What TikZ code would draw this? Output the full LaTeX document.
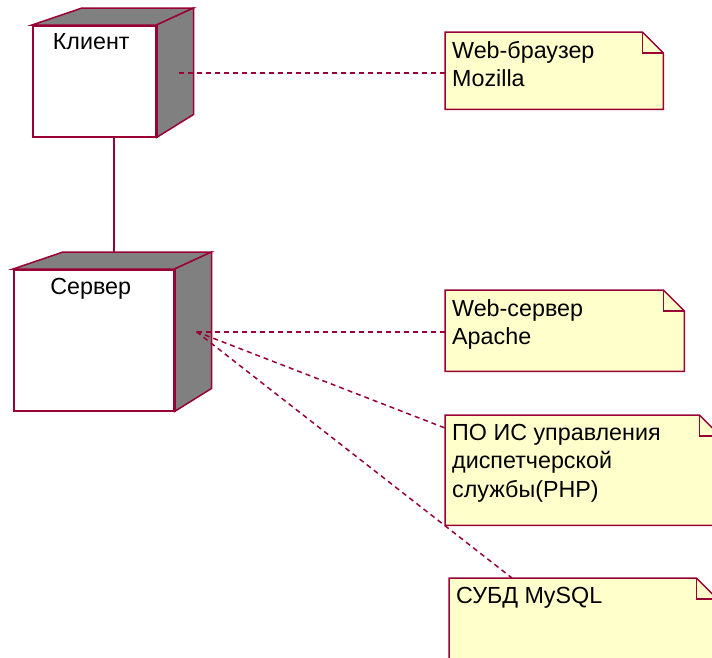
\documentclass[tikz,border=0pt]{standalone}
\usepackage{fontspec}
\setmainfont{Liberation Sans}
\usetikzlibrary{calc,backgrounds}

\definecolor{edgered}{RGB}{153,0,51}
\definecolor{notefill}{RGB}{255,255,204}
\definecolor{sidegray}{RGB}{128,128,128}

% fixed-size text box, text at the top
\newcommand{\fixbox}[3]{\parbox[t][#1][t]{#2}{#3}}

% grey top and right faces of a deployment node
\newcommand{\cubeside}[1]{%
  \filldraw[edge, fill=sidegray] (#1.north west) -- ([shift={(50,-17)}]#1.north west)
    -- ([shift={(37,-17)}]#1.north east) -- (#1.north east) -- cycle;
  \filldraw[edge, fill=sidegray] (#1.north east) -- ([shift={(37,-17)}]#1.north east)
    -- ([shift={(37,-23)}]#1.south east) -- (#1.south east) -- cycle;
  \draw[edgered, line width=3pt] (#1.north east) -- (#1.south east);
}

% note outline with folded corner
\newcommand{\notebox}[1]{%
  \begin{scope}[on background layer]
    \filldraw[edge, fill=notefill] (#1.north west) -- ([xshift=-21pt]#1.north east)
      -- ([yshift=-21pt]#1.north east) -- (#1.south east) -- (#1.south west) -- cycle;
  \end{scope}
  \draw[edge] ([xshift=-21pt]#1.north east) |- ([yshift=-21pt]#1.north east);
}

\tikzset{
  edge/.style={draw=edgered, line width=1.5pt},
  link/.style={draw=edgered, line width=1.5pt, dash pattern=on 5pt off 4pt},
  cubeface/.style={edge, fill=white, anchor=north west, inner xsep=0pt, inner ysep=8pt},
  note/.style={anchor=north west, inner xsep=7pt, inner ysep=9pt},
}

\begin{document}
\begin{tikzpicture}[x=1pt, y=-1pt, font=\fontsize{23.3}{28.5}\selectfont]
  \useasboundingbox (0,0) rectangle (712,657);

  % nodes
  \node[cubeface] (client) at (32,25) {\fixbox{95pt}{123pt}{\centering\hspace*{-6pt}Клиент}};
  \cubeside{client}
  \node[cubeface] (server) at (13,269) {\fixbox{125pt}{160pt}{\centering\hspace*{-6pt}Сервер}};
  \cubeside{server}

  % notes
  \node[note] (browser) at (445,32) {\fixbox{59pt}{204pt}{\raggedright Web-браузер\\Mozilla}};
  \notebox{browser}
  \node[note] (apache) at (445,290) {\fixbox{63pt}{225pt}{\raggedright Web-сервер\\Apache}};
  \notebox{apache}
  \node[note] (php) at (445,415) {\fixbox{92pt}{261pt}{\raggedright ПО ИС управления\\диспетчерской\\службы(PHP)}};
  \notebox{php}
  \node[note] (dbms) at (449,578) {\fixbox{102pt}{254pt}{\raggedright СУБД MySQL}};
  \notebox{dbms}

  \coordinate (clbottom) at ([xshift=19.5pt]client.south);
  \coordinate (clside) at ([shift={(22,-8.5)}]client.east);
  \coordinate (srvtop) at ([shift={(50,-17)}]server.north west);
  \coordinate (srvside) at ([shift={(22,-8.5)}]server.east);

  % connectors
  \draw[edge] (clbottom) -- (clbottom |- srvtop);
  \draw[link] (clside) -- (clside -| browser.west);
  \draw[link] (srvside) -- (srvside -| apache.west);
  \draw[link] (srvside) -- ([yshift=-13pt]php.north west);
  \draw[link] (srvside) -- ([xshift=63pt]dbms.north west);
\end{tikzpicture}
\end{document}
